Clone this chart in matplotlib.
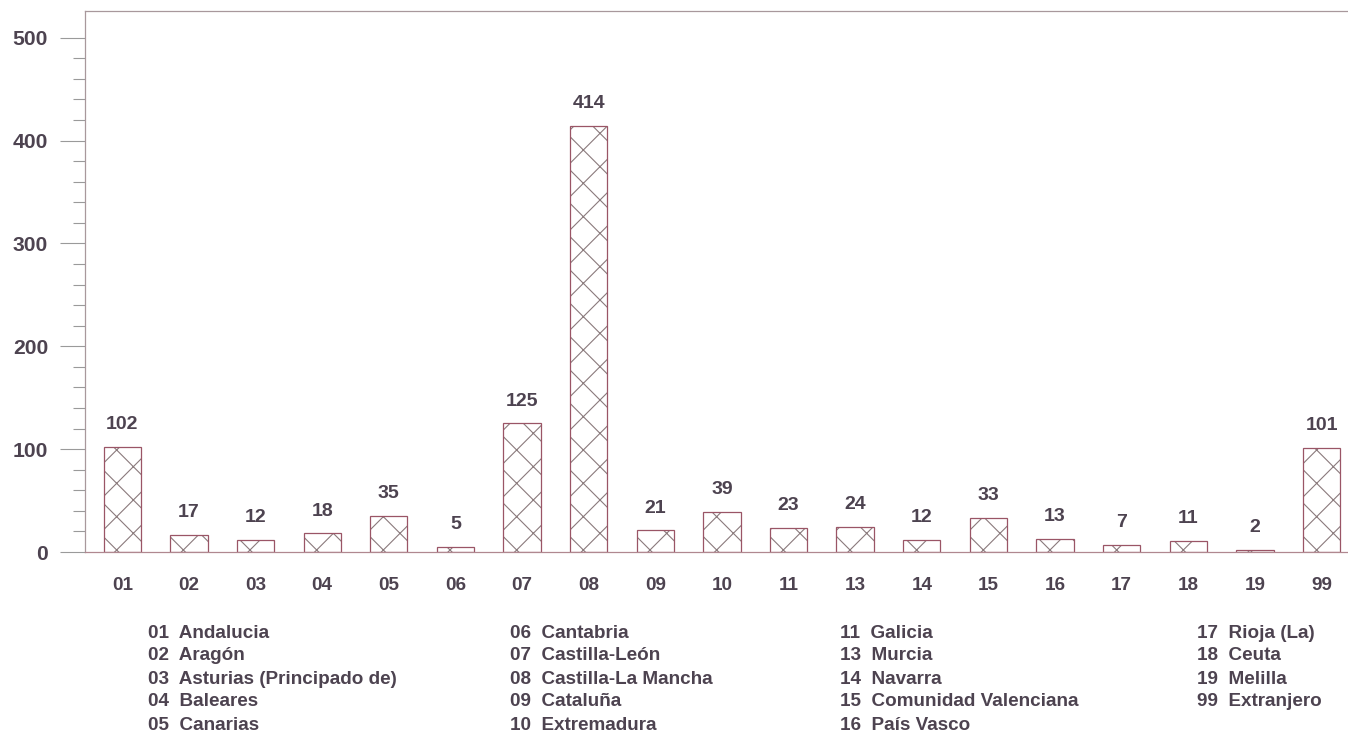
import numpy as np
import matplotlib
matplotlib.use("Agg")
import matplotlib.pyplot as plt
from matplotlib.ticker import MultipleLocator, FixedLocator

# Data
codes = ['01', '02', '03', '04', '05', '06', '07', '08', '09', '10',
         '11', '13', '14', '15', '16', '17', '18', '19', '99']
values = [102, 17, 12, 18, 35, 5, 125, 414, 21, 39,
          23, 24, 12, 33, 13, 7, 11, 2, 101]
names = ['Andalucia', 'Aragón', 'Asturias (Principado de)', 'Baleares', 'Canarias',
         'Cantabria', 'Castilla-León', 'Castilla-La Mancha', 'Cataluña', 'Extremadura',
         'Galicia', 'Murcia', 'Navarra', 'Comunidad Valenciana', 'País Vasco',
         'Rioja (La)', 'Ceuta', 'Melilla', 'Extranjero']
legend_cols = [5, 5, 5, 4]   # entries per legend column

txt = '#4d4350'
edge = '#9a5566'
hatchc = '#8a7a7c'
spine = '#a8989c'

plt.rcParams['font.family'] = ['Liberation Sans', 'DejaVu Sans']
plt.rcParams['hatch.linewidth'] = 0.4

W, H = 1348, 735
dpi = 200
fig = plt.figure(figsize=(W / dpi, H / dpi), dpi=dpi)
ax = fig.add_axes([85 / W, 1 - 552 / H, 1 - 85 / W + 0.01, (552 - 11) / H])

x = np.arange(len(codes))
# hatch layer and outline layer
ax.bar(x, values, width=0.56, facecolor='white', edgecolor=hatchc, hatch='xx', linewidth=0)
bars = ax.bar(x, values, width=0.56, facecolor='none', edgecolor=edge, linewidth=0.45)
ax.bar_label(bars, labels=[str(v) for v in values], padding=5,
             fontsize=7.0, fontweight='bold', color=txt)

ax.set_xlim(-0.56, 18.6)
ax.set_ylim(0, 526)
ax.set_xticks(x)
ax.set_xticklabels(codes)
ax.yaxis.set_major_locator(MultipleLocator(100))
ax.yaxis.set_minor_locator(FixedLocator([v for v in range(20, 500, 20) if v % 100]))

ax.tick_params(axis='x', length=0, pad=9, labelsize=6.8, labelcolor=txt)
for lab in ax.get_xticklabels():
    lab.set_fontweight('bold')
ax.tick_params(axis='y', which='major', length=9, width=0.4, color='#9a9a9a',
               pad=4.3, labelsize=7.6, labelcolor=txt)
ax.tick_params(axis='y', which='minor', length=4.3, width=0.4, color='#9a9a9a')
for lab in ax.get_yticklabels():
    lab.set_fontweight('bold')

for s in ['left', 'top', 'bottom']:
    ax.spines[s].set_color(spine)
    ax.spines[s].set_linewidth(0.45)
ax.spines['bottom'].set_color('#b08890')
ax.spines['right'].set_visible(False)

#------------------ legend of regions, written as text
col_x = [148, 510, 840, 1197]
row_y = [633, 656, 679, 702, 725]
k = 0
for c, n in enumerate(legend_cols):
    for r in range(n):
        fig.text(col_x[c] / W, 1 - row_y[r] / H, codes[k] + '  ' + names[k],
                 fontsize=6.8, fontweight='bold', color=txt, va='center', ha='left')
        k += 1

fig.savefig('out.png', dpi=dpi)
